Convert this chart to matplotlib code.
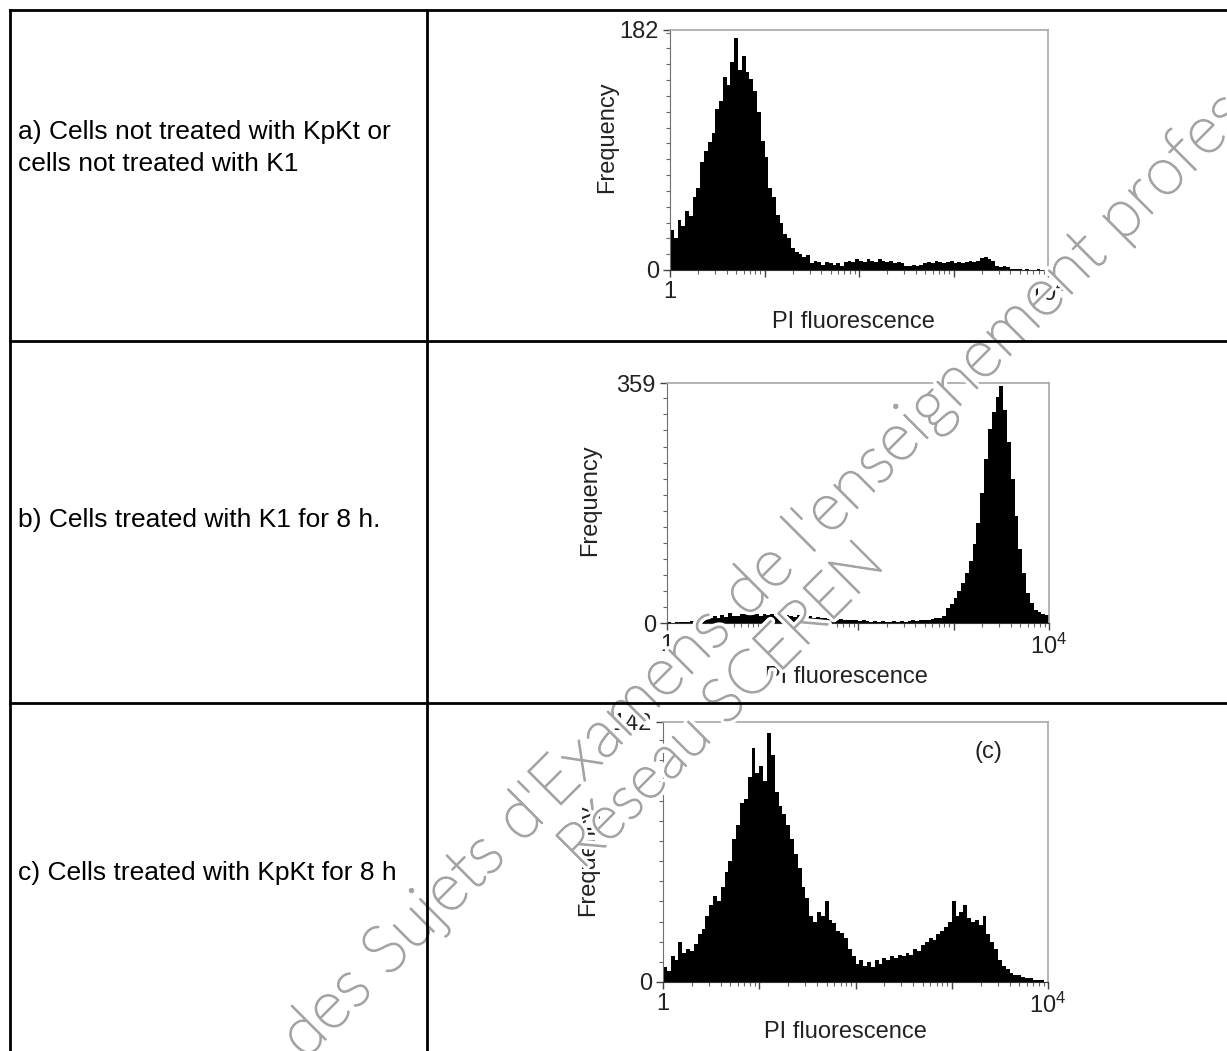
import numpy as np
import matplotlib
matplotlib.use("Agg")
import matplotlib.pyplot as plt
import matplotlib.patheffects as pe
from matplotlib.lines import Line2D
from matplotlib.ticker import MultipleLocator, FixedLocator, FixedFormatter

plt.rcParams['font.family'] = ['Liberation Sans', 'DejaVu Sans']

# Histogram counts, 100 channels spread evenly over log10 0..4 (1 to 10^4)
counts_a = [30, 24, 38, 33, 45, 41, 55, 62, 82, 90,
            97, 104, 122, 128, 146, 140, 158, 176, 152, 162,
            150, 145, 136, 120, 98, 86, 62, 55, 42, 36,
            27, 24, 17, 14, 12, 10, 11, 5, 7, 6,
            4, 6, 5, 4, 5, 3, 6, 7, 6, 8,
            7, 6, 8, 7, 6, 8, 7, 6, 7, 5,
            6, 5, 3, 3, 4, 3, 4, 5, 6, 5,
            7, 6, 5, 6, 7, 5, 6, 5, 6, 7,
            6, 7, 9, 10, 8, 7, 3, 2, 3, 2,
            1, 1, 1, 0, 1, 0, 0, 1, 0, 0]

counts_b = [1, 0, 1, 1, 2, 1, 3, 4, 5, 4,
            6, 7, 10, 8, 12, 9, 15, 11, 10, 13,
            14, 12, 15, 13, 11, 14, 12, 13, 11, 13,
            10, 12, 11, 9, 12, 10, 9, 11, 8, 9,
            7, 8, 6, 7, 5, 6, 5, 4, 5, 4,
            3, 4, 3, 2, 3, 2, 3, 2, 2, 3,
            2, 3, 2, 3, 4, 3, 4, 5, 5, 6,
            7, 8, 10, 22, 28, 38, 48, 60, 75, 92,
            118, 150, 195, 245, 290, 315, 338, 355, 318, 270,
            215, 160, 110, 75, 45, 30, 20, 16, 14, 12]

counts_c = [8, 6, 14, 12, 22, 16, 18, 17, 21, 26,
            29, 36, 42, 47, 44, 52, 60, 66, 78, 86,
            98, 100, 112, 128, 114, 118, 110, 136, 124, 104,
            96, 92, 86, 78, 70, 62, 52, 46, 36, 33,
            38, 36, 44, 34, 32, 28, 27, 24, 18, 14,
            10, 12, 9, 11, 8, 12, 10, 13, 12, 14,
            13, 15, 14, 16, 15, 18, 17, 20, 22, 24,
            23, 26, 28, 30, 33, 44, 36, 38, 42, 35,
            33, 34, 31, 36, 26, 22, 18, 12, 9, 7,
            5, 4, 4, 3, 2, 2, 1, 1, 1, 0]

row_labels = ["a) Cells not treated with KpKt or\ncells not treated with K1",
              "b) Cells treated with K1 for 8 h.",
              "c) Cells treated with KpKt for 8 h"]
y_max = [182, 359, 142]
y_minor_step = [12, 24, 11]

W, H = 1227, 1051
fig = plt.figure(figsize=(W / 100, H / 100), dpi=100)


def px(x, y):
    return x / W, 1 - y / H


# axes boxes in pixels: left, top, right, bottom
boxes = [(670, 30, 1048, 270), (667, 383, 1049, 623), (663, 722, 1048, 982)]
ylab_pos = [(-0.167, 0.554), (-0.202, 0.513), (-0.195, 0.469)]
xlab_pos = [(0.484, -0.217), (0.471, -0.225), (0.473, -0.192)]

edges = np.logspace(0, 4, 101)
for i, counts in enumerate([counts_a, counts_b, counts_c]):
    l, t, r, b = boxes[i]
    ax = fig.add_axes([l / W, 1 - b / H, (r - l) / W, (b - t) / H])
    ax.stairs(counts, edges, fill=True, color='black', baseline=0)
    ax.set_xscale('log')
    ax.set_xlim(1, 1e4)
    ax.set_ylim(0, y_max[i])

    ax.xaxis.set_major_locator(FixedLocator([1, 10, 100, 1000, 10000]))
    ax.xaxis.set_major_formatter(FixedFormatter(['1', '', '', '', r'$\mathregular{10^4}$']))
    ax.yaxis.set_major_locator(FixedLocator([0, y_max[i]]))
    ax.yaxis.set_minor_locator(MultipleLocator(y_minor_step[i]))
    ax.tick_params(axis='both', which='major', direction='out', length=5, width=1,
                   color='#444444', labelsize=17, labelcolor='#222222', pad=3)
    ax.tick_params(axis='both', which='minor', direction='out', length=3, width=0.8,
                   color='#666666')

    for s in ['top', 'right']:
        ax.spines[s].set_color('#a8a8a8')
        ax.spines[s].set_linewidth(1.2)
    ax.spines['left'].set_color('#707070')
    ax.spines['bottom'].set_color('#333333')

    ax.set_ylabel('Frequency', fontsize=17, color='#222222')
    ax.yaxis.set_label_coords(*ylab_pos[i])
    ax.set_xlabel('PI fluorescence', fontsize=17, color='#222222')
    ax.xaxis.set_label_coords(*xlab_pos[i])
    ax.xaxis.label.set_verticalalignment('center')
    ax.yaxis.label.set_verticalalignment('center')

    if i == 2:
        ax.text(0.844, 0.885, '(c)', transform=ax.transAxes, fontsize=17,
                color='#222222', ha='center', va='center')

# row captions in the left column
fig.text(*px(18, 148), row_labels[0], fontsize=19, va='center', ha='left',
         linespacing=1.38)
fig.text(*px(18, 520), row_labels[1], fontsize=19, va='center', ha='left')
fig.text(*px(18, 873), row_labels[2], fontsize=19, va='center', ha='left')

# watermark
wm_grey = '#a4a4a4'
wm = dict(color=wm_grey, rotation=45, rotation_mode='anchor',
          family=['Lato', 'DejaVu Sans'], fontweight='light', zorder=5,
          path_effects=[pe.withStroke(linewidth=6, foreground='white'),
                        pe.Stroke(linewidth=1.3, foreground=wm_grey),
                        pe.Normal()])
fig.text(*px(292, 1048), "des Sujets d'Examens de l'enseignement professionnel",
         ha='left', va='center', fontsize=48, **wm)
fig.text(*px(722, 706), "Réseau SCEREN", ha='center', va='center', fontsize=44, **wm)

# table grid
lw = 2.0
table_lines = [((10, 1227), (10, 10)), ((10, 1227), (341, 341)), ((10, 1227), (703, 703)),
               ((10, 10), (10, 1051)), ((427, 427), (10, 1051))]
for xs, ys in table_lines:
    fig.add_artist(Line2D([x / W for x in xs], [1 - y / H for y in ys],
                          color='black', linewidth=lw, zorder=6))

fig.savefig('out.png', dpi=100)
